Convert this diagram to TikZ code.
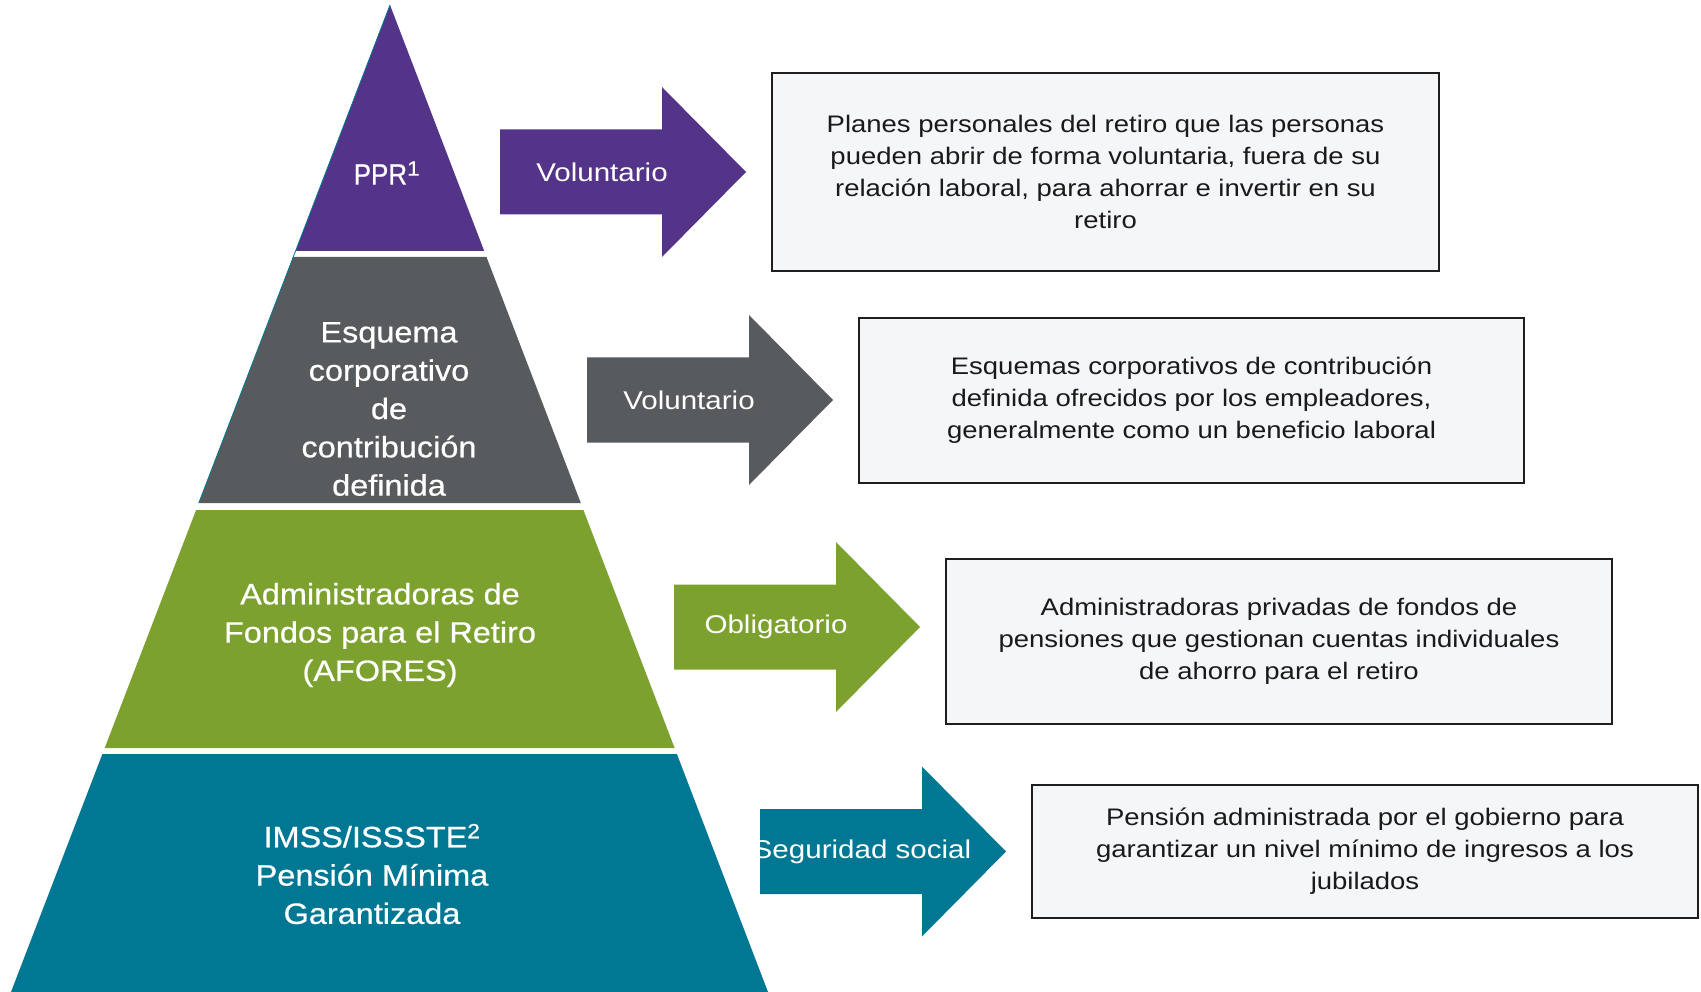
\documentclass[tikz,border=0pt]{standalone}
\usepackage{fontspec}
\setmainfont[FakeStretch=1.15]{Liberation Sans}
\newfontfamily\layerfont[FakeStretch=1.1, FakeBold=0.6]{Liberation Sans}
\definecolor{pPurple}{HTML}{543489}
\definecolor{pGray}{HTML}{575B5E}
\definecolor{pGreen}{HTML}{7DA12F}
\definecolor{pTeal}{HTML}{007893}
\definecolor{boxFill}{HTML}{F5F6F8}
\definecolor{boxLine}{HTML}{1E1E1E}
\definecolor{boxText}{HTML}{1A1A1A}
\tikzset{
  layertext/.style={text=white, align=center, font=\layerfont\fontsize{29.5}{38.3}\selectfont, inner sep=0pt},
  arrowtext/.style={text=white, font=\fontsize{25.7}{30}\selectfont, inner sep=0pt},
  descbox/.style={draw=boxLine, line width=2pt, fill=boxFill, align=center, text=boxText,
    font=\fontsize{23.9}{32}\selectfont, inner sep=0pt},
}
\newcommand{\fatarrow}[5]{%
  \fill[#1] (#2,#3-42.5) -- ++(162,0) -- ++(0,-42.5) -- ++(84,85)
      -- ++(-84,85) -- ++(0,-42.5) -- ++(-162,0) -- cycle;
  \begin{scope}
    \clip (#2,#3-42.5) -- ++(162,0) -- ++(0,-42.5) -- ++(84,85)
      -- ++(-84,85) -- ++(0,-42.5) -- ++(-162,0) -- cycle;
    \node[arrowtext] (#4) at (#2+102,#3) {#5};
  \end{scope}}
\begin{document}
\begin{tikzpicture}[x=1pt,y=-1pt]
\useasboundingbox[fill=white] (0,0) rectangle (1701,992);
% pyramid layers
\fill[pPurple] (390,5) -- (484.2,251) -- (295.6,251) -- cycle;
\fill[pGray] (293.2,257) -- (486.5,257) -- (580.8,503) -- (198.8,503) -- cycle;
\fill[pGreen] (196.1,510) -- (583.4,510) -- (674.6,748) -- (104.7,748) -- cycle;
\fill[pTeal] (102.4,754) -- (676.9,754) -- (768,992) -- (11,992) -- cycle;
\draw[pTeal, line width=0.8pt] (390,5) -- (198.8,503);
% layer texts
\node[layertext] (l1) at (387,173) {\scalebox{0.8}[1]{PPR}\textsuperscript{1}};
\node[layertext] (l2) at (389,409) {Esquema\\corporativo\\de\\contribución\\definida};
\node[layertext] (l3) at (380,635) {Administradoras de\\Fondos para el Retiro\\(AFORES)};
\node[layertext] (l4) at (372,874) {IMSS/ISSSTE\textsuperscript{2}\\Pensión Mínima\\Garantizada};
% arrows
\fatarrow{pPurple}{500}{172}{a1}{Voluntario}
\fatarrow{pGray}{587}{400}{a2}{Voluntario}
\fatarrow{pGreen}{674}{627}{a3}{Obligatorio}
\fatarrow{pTeal}{760}{851.5}{a4}{Seguridad social}
% description boxes
\node[descbox, minimum width=667pt, minimum height=198pt] (d1) at (1105.5,172)
  {Planes personales del retiro que las personas\\pueden abrir de forma voluntaria, fuera de su\\relación laboral, para ahorrar e invertir en su\\retiro};
\node[descbox, minimum width=665pt, minimum height=165pt] (d2) at (1191.5,400.5)
  {Esquemas corporativos de contribución\\definida ofrecidos por los empleadores,\\generalmente como un beneficio laboral};
\node[descbox, minimum width=666pt, minimum height=165pt] (d3) at (1279,641.5)
  {Administradoras privadas de fondos de\\pensiones que gestionan cuentas individuales\\de ahorro para el retiro};
\node[descbox, minimum width=666pt, minimum height=133pt] (d4) at (1365,851.5)
  {Pensión administrada por el gobierno para\\garantizar un nivel mínimo de ingresos a los\\jubilados};
\end{tikzpicture}
\end{document}
